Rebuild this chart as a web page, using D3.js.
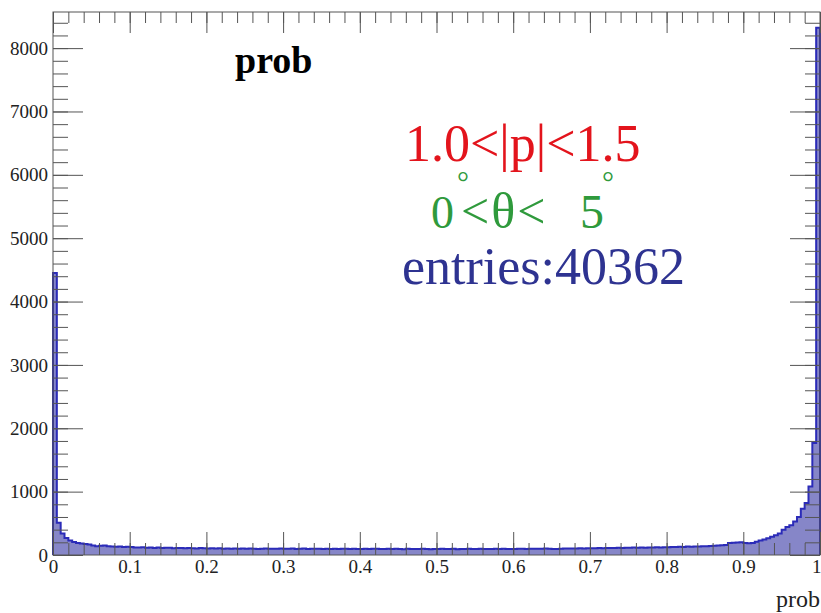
<!DOCTYPE html>
<html>
<head>
<meta charset="utf-8">
<script src="https://cdn.jsdelivr.net/npm/d3@7"></script>
<style>
  body { margin: 0; background: #fff; }
  svg text { font-family: "Liberation Serif", "DejaVu Serif", serif; }
</style>
</head>
<body>
<div class="c_hist"></div>
<script>
/* DATA
------------------------------------------------------
*/
const nBins = 200;
const xMin = 0, xMax = 1;
const counts = [
  4450, 510, 340, 270, 230, 205, 190, 180, 175, 165,
  150, 140, 145, 150, 140, 135, 130, 135, 128, 130,
  125, 120, 118, 122, 115, 117, 112, 118, 110, 113, 115, 108, 112, 110, 106, 111, 108, 104, 109, 105,
  103, 107, 101, 105, 100, 104, 98, 102, 99, 103, 97, 101, 100, 96, 99, 102, 97, 100, 98, 101,
  97, 100, 103, 96, 99, 101, 95, 98, 100, 97, 94, 99, 96, 100, 95, 98, 97, 94, 99, 96,
  95, 98, 93, 97, 100, 94, 96, 99, 93, 97, 95, 92, 98, 94, 96, 93, 97, 95, 92, 96,
  94, 97, 93, 95, 98, 92, 96, 94, 97, 93, 95, 98, 94, 96, 93, 97, 95, 98, 94, 96,
  95, 97, 99, 96, 98, 100, 97, 99, 101, 98, 96, 94, 100, 103, 101, 104, 102, 105, 103, 106,
  108, 105, 110, 107, 112, 109, 111, 114, 110, 116, 113, 117, 115, 119, 116, 120, 118, 122, 119, 121,
  124, 127, 125, 130, 128, 133, 131, 136, 134, 140, 138, 143, 145, 148, 152, 158, 190, 195, 198, 200,
  190, 185, 190, 210, 230, 245, 265, 290, 310, 340, 400, 440, 470, 530, 600, 730, 820, 1080, 1766, 8320
];
const yMax = 8570;
const xMajor = [0, 0.1, 0.2, 0.3, 0.4, 0.5, 0.6, 0.7, 0.8, 0.9, 1];
const yMajor = [0, 1000, 2000, 3000, 4000, 5000, 6000, 7000, 8000];

/* SVG, FORMAT
------------------------------------------------------
*/
const width = 821, height = 613;
const margin = {top: 12, right: 1, bottom: 58, left: 53};
const iw = width - margin.left - margin.right;
const ih = height - margin.top - margin.bottom;

const svg = d3.select(".c_hist").append("svg")
  .attr("width", width)
  .attr("height", height);

const g = svg.append("g")
  .attr("transform", `translate(${margin.left},${margin.top})`);

const x = d3.scaleLinear().domain([xMin, xMax]).range([0, iw]);
const y = d3.scaleLinear().domain([0, yMax]).range([ih, 0]);

/* HISTOGRAM
------------------------------------------------------
*/
const binW = (xMax - xMin) / nBins;
const bins = counts.map((c, i) => ({x0: xMin + i * binW, x1: xMin + (i + 1) * binW, c: c}));

const area = d3.area()
  .curve(d3.curveStepAfter)
  .x(d => x(d.x))
  .y0(y(0))
  .y1(d => y(d.c));

const pts = bins.map(b => ({x: b.x0, c: b.c}));
pts.push({x: xMax, c: counts[counts.length - 1]});

g.append("path")
  .datum(pts)
  .attr("d", area)
  .attr("fill", "#8686c8");

// outline, with vertical edges at both ends
const stepPts = [];
stepPts.push([x(xMin), y(0)]);
bins.forEach(b => {
  stepPts.push([x(b.x0), y(b.c)]);
  stepPts.push([x(b.x1), y(b.c)]);
});
stepPts.push([x(xMax), y(0)]);
g.append("path")
  .attr("d", d3.line()(stepPts))
  .attr("fill", "none")
  .attr("stroke", "#2b2bb8")
  .attr("stroke-width", 2);

/* AXES
------------------------------------------------------
*/
const tickCol = "#555";
const xMinor = d3.range(0, 51).map(i => i * 0.02);
const yMinor = d3.range(0, 43).map(i => i * 200);

function styleAxis(sel) {
  sel.select(".domain").remove();
  sel.selectAll("line").attr("stroke", tickCol).attr("stroke-width", 1);
  sel.selectAll("text").attr("fill", "#222").style("font-size", "19px");
}

// bottom
g.append("g").attr("transform", `translate(0,${ih})`)
  .call(d3.axisBottom(x).tickValues(xMinor).tickSize(-12).tickFormat(""))
  .call(styleAxis);
g.append("g").attr("transform", `translate(0,${ih})`)
  .call(d3.axisBottom(x).tickValues(xMajor).tickSize(-23).tickPadding(5)
    .tickFormat(d => d === 0 || d === 1 ? d3.format("d")(d) : d3.format(".1f")(d)))
  .call(styleAxis)
  .call(s => s.selectAll(".tick text").filter(d => d === 1)
    .attr("text-anchor", "end").attr("dx", 1));

// top
g.append("g")
  .call(d3.axisTop(x).tickValues(xMinor).tickSize(-11).tickFormat(""))
  .call(styleAxis);
g.append("g")
  .call(d3.axisTop(x).tickValues(xMajor).tickSize(-21).tickFormat(""))
  .call(styleAxis);

// left
g.append("g")
  .call(d3.axisLeft(y).tickValues(yMinor).tickSize(-15).tickFormat(""))
  .call(styleAxis);
g.append("g")
  .call(d3.axisLeft(y).tickValues(yMajor).tickSize(-30).tickPadding(5).tickFormat(d3.format("d")))
  .call(styleAxis);

// right
g.append("g").attr("transform", `translate(${iw},0)`)
  .call(d3.axisRight(y).tickValues(yMinor).tickSize(-15).tickFormat(""))
  .call(styleAxis);
g.append("g").attr("transform", `translate(${iw},0)`)
  .call(d3.axisRight(y).tickValues(yMajor).tickSize(-30).tickFormat(""))
  .call(styleAxis);

// frame
g.append("rect")
  .attr("width", iw).attr("height", ih)
  .attr("fill", "none")
  .attr("stroke", tickCol)
  .attr("stroke-width", 1);

/* TEXTS
------------------------------------------------------
*/
svg.append("text")
  .attr("x", 235).attr("y", 73)
  .attr("font-weight", "bold")
  .style("font-size", "38px")
  .attr("fill", "#000")
  .text("prob");

svg.append("text")
  .attr("x", 820).attr("y", 607)
  .attr("text-anchor", "end")
  .style("font-size", "24px")
  .attr("fill", "#222")
  .text("prob");

svg.append("text")
  .attr("x", 405).attr("y", 161)
  .style("font-size", "52px")
  .attr("fill", "#e3141c")
  .text("1.0<|p|<1.5");

const green = "#2f9a3c";
const gl = svg.append("g").attr("fill", green);
gl.append("text").attr("x", 431).attr("y", 228).style("font-size", "46px").text("0");
gl.append("text").attr("x", 457).attr("y", 192).style("font-size", "30px").text("°");
gl.append("text").attr("x", 461).attr("y", 228).style("font-size", "50px")
  .attr("letter-spacing", "2px").text("<θ<");
gl.append("text").attr("x", 580).attr("y", 228).style("font-size", "48px").text("5");
gl.append("text").attr("x", 602).attr("y", 192).style("font-size", "30px").text("°");

svg.append("text")
  .attr("x", 402).attr("y", 284)
  .style("font-size", "52px")
  .attr("fill", "#2e3391")
  .text("entries:40362");
</script>
</body>
</html>
